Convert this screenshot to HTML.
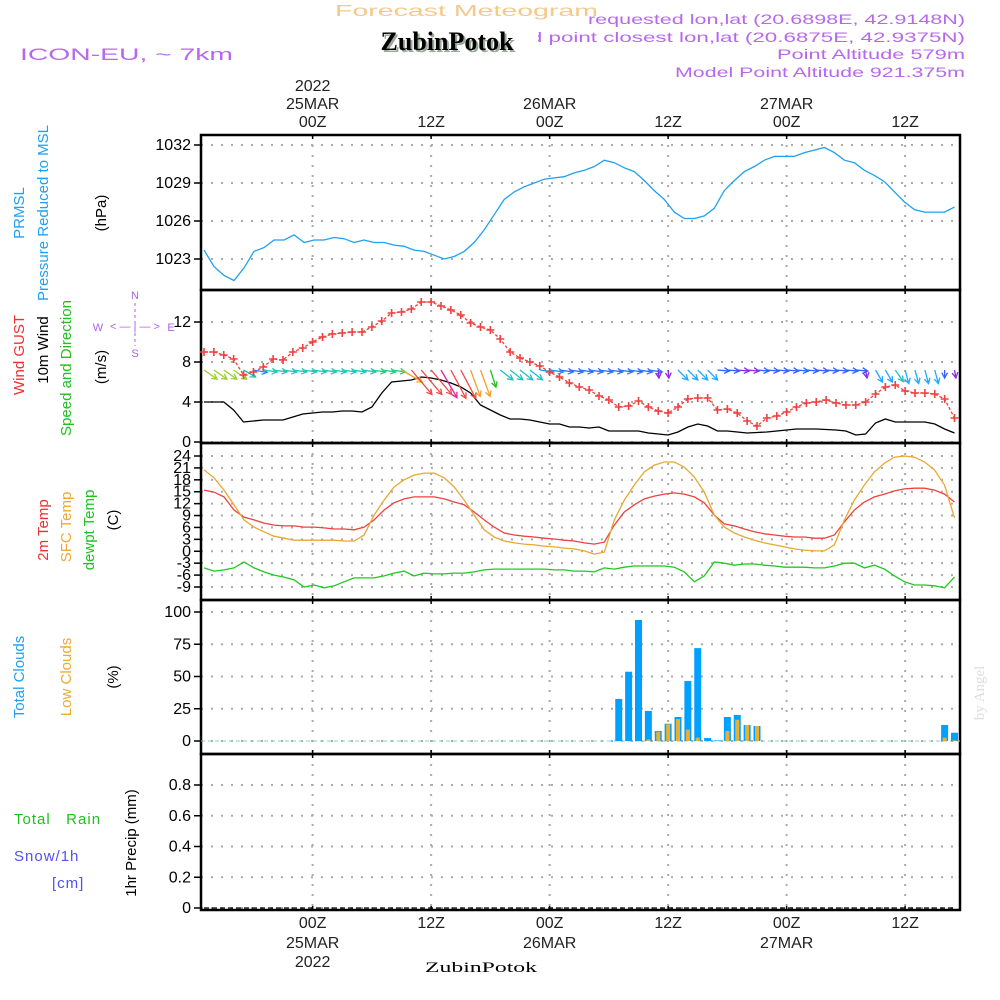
<!DOCTYPE html>
<html><head><meta charset="utf-8"><style>
html,body{margin:0;padding:0;background:#fff;width:1000px;height:1000px;overflow:hidden}
svg{display:block;font-family:"Liberation Sans",sans-serif}
</style></head><body>
<svg id="chart" width="1000" height="1000" viewBox="0 0 1000 1000">
<g>
<text x="335" y="16" textLength="263" lengthAdjust="spacingAndGlyphs" font-size="16" fill="#f5c98a">Forecast Meteogram</text>
<text x="588" y="24" textLength="377" lengthAdjust="spacingAndGlyphs" font-size="14" fill="#b868ec">requested lon,lat (20.6898E, 42.9148N)</text>
<text x="505" y="42" textLength="460" lengthAdjust="spacingAndGlyphs" font-size="14" fill="#b868ec">grid point closest lon,lat (20.6875E, 42.9375N)</text>
<rect x="352" y="26" width="186" height="28" fill="#fff"/>
<text x="447" y="50" text-anchor="middle" font-size="26" font-weight="bold" font-family="Liberation Serif, serif" fill="#9a9" transform="translate(2,2)">ZubinPotok</text>
<text x="447" y="50" text-anchor="middle" font-size="26" font-weight="bold" font-family="Liberation Serif, serif" fill="#000">ZubinPotok</text>
<text x="777" y="59" textLength="188" lengthAdjust="spacingAndGlyphs" font-size="14" fill="#b868ec">Point Altitude 579m</text>
<text x="675" y="77" textLength="290" lengthAdjust="spacingAndGlyphs" font-size="14" fill="#b868ec">Model Point Altitude 921.375m</text>
<text x="20" y="60" textLength="213" lengthAdjust="spacingAndGlyphs" font-size="17" fill="#b868ec">ICON-EU, ~ 7km</text>
</g>
<g font-size="15">
<text transform="translate(24,213) rotate(-90)" text-anchor="middle" fill="#1fa0f0">PRMSL</text>
<text transform="translate(48,213) rotate(-90)" text-anchor="middle" fill="#1fa0f0">Pressure Reduced to MSL</text>
<text transform="translate(106,213) rotate(-90)" text-anchor="middle" fill="#000">(hPa)</text>
<text transform="translate(24,355) rotate(-90)" text-anchor="middle" fill="#f03030">Wind GUST</text>
<text transform="translate(48,350) rotate(-90)" text-anchor="middle" fill="#000">10m Wind</text>
<text transform="translate(71,368) rotate(-90)" text-anchor="middle" fill="#20c020">Speed and Direction</text>
<text transform="translate(106,367) rotate(-90)" text-anchor="middle" fill="#000">(m/s)</text>
<g fill="#b060e8" font-size="11">
<text x="135" y="299" text-anchor="middle">N</text><text x="135" y="357" text-anchor="middle">S</text>
<text x="98" y="331" text-anchor="middle">W</text><text x="171" y="331" text-anchor="middle">E</text>
<text x="135" y="330" text-anchor="middle">&lt; — | — &gt;</text>
<line x1="135" y1="303" x2="135" y2="346" stroke="#b060e8" stroke-dasharray="3,3"/>
</g>
<text transform="translate(48,530) rotate(-90)" text-anchor="middle" fill="#f03030">2m Temp</text>
<text transform="translate(71,527) rotate(-90)" text-anchor="middle" fill="#f0a830">SFC Temp</text>
<text transform="translate(94,530) rotate(-90)" text-anchor="middle" fill="#20c020">dewpt Temp</text>
<text transform="translate(118,520) rotate(-90)" text-anchor="middle" fill="#000">(C)</text>
<text transform="translate(24,677) rotate(-90)" text-anchor="middle" fill="#1fa0f0">Total Clouds</text>
<text transform="translate(71,677) rotate(-90)" text-anchor="middle" fill="#f0a830">Low Clouds</text>
<text transform="translate(118,677) rotate(-90)" text-anchor="middle" fill="#000">(%)</text>
<text x="14" y="824" fill="#20c020" letter-spacing="1">Total&#160;&#160;&#160;Rain</text>
<text x="14" y="861" fill="#5050f0" letter-spacing="1">Snow/1h</text>
<text x="52" y="888" fill="#5050f0" letter-spacing="1">[cm]</text>
<text transform="translate(136,843) rotate(-90)" text-anchor="middle" fill="#000">1hr Precip (mm)</text>
<text transform="translate(984,693) rotate(-90)" text-anchor="middle" fill="#ddd" font-family="Liberation Serif, serif" font-size="15">by Angel</text>
<text x="425" y="972" textLength="112" lengthAdjust="spacingAndGlyphs" font-family="Liberation Serif, serif" font-size="15" fill="#000">ZubinPotok</text>
</g>
<g id="plots"></g>
</svg>
<script>
const hours = 77;
const timeTicks = [11, 23, 35, 47, 59, 71];
const timeLabels = ["00Z","12Z","00Z","12Z","00Z","12Z"];
const dateLabels = ["25MAR","","26MAR","","27MAR",""];
const pressure = [1023.7,1022.4,1021.7,1021.3,1022.3,1023.6,1023.9,1024.5,1024.5,1024.9,1024.3,1024.5,1024.5,1024.7,1024.6,1024.3,1024.5,1024.3,1024.3,1024.1,1024.0,1023.7,1023.6,1023.3,1023.0,1023.2,1023.6,1024.3,1025.3,1026.5,1027.7,1028.3,1028.7,1029.0,1029.3,1029.4,1029.5,1029.8,1030.0,1030.3,1030.8,1030.6,1030.2,1029.9,1029.2,1028.4,1027.7,1026.7,1026.2,1026.2,1026.4,1027.0,1028.4,1029.2,1029.9,1030.3,1030.8,1031.1,1031.1,1031.1,1031.4,1031.6,1031.8,1031.4,1030.8,1030.6,1030.0,1029.6,1029.1,1028.3,1027.5,1026.9,1026.7,1026.7,1026.7,1027.1];
const gust = [9.0,9.0,8.7,8.3,6.7,7.0,7.5,8.3,8.2,9.0,9.4,10.0,10.5,10.8,10.9,11.0,11.0,11.5,12.1,12.9,13.0,13.3,14.0,14.0,13.6,13.2,12.7,11.9,11.5,11.2,10.3,9.0,8.4,8.0,7.6,7.0,6.5,5.9,5.5,5.2,4.6,4.2,3.5,3.6,4.1,3.5,3.1,2.9,3.5,4.3,4.4,4.4,3.2,3.3,2.9,2.1,1.6,2.4,2.6,3.0,3.5,3.9,4.0,4.2,3.9,3.7,3.7,4.0,4.8,5.5,5.7,5.1,4.9,4.9,4.8,4.3,2.4];
const windSpeed = [4.0,4.0,4.0,3.2,2.0,2.1,2.2,2.2,2.2,2.5,2.8,2.9,3.0,3.0,3.1,3.1,3.0,3.5,4.9,6.0,6.1,6.2,6.5,6.4,6.2,5.9,5.5,4.9,3.7,3.2,2.7,2.3,2.3,2.2,2.0,1.8,1.8,1.5,1.5,1.4,1.5,1.1,1.1,1.1,1.1,0.9,0.8,0.7,1.0,1.5,1.8,1.6,1.1,1.1,1.0,0.9,0.95,1.0,1.1,1.2,1.3,1.3,1.3,1.25,1.2,1.1,0.7,0.8,1.9,2.3,2.0,2.0,2.0,2.0,1.8,1.3,0.9];
const windDir = [35,35,35,35,30,10,8,8,8,8,8,8,8,8,8,8,8,8,8,8,30,50,50,50,60,62,62,70,70,72,38,38,38,38,8,8,8,8,8,8,8,8,8,8,8,8,85,85,45,45,45,45,5,5,5,5,5,5,5,5,5,5,5,5,5,5,5,80,60,60,55,75,75,75,75,90,80];
const windLen = [16,16,16,16,14,14,14,14,14,14,14,14,14,14,14,14,14,14,14,14,24,32,32,32,32,32,32,28,28,18,16,16,16,16,14,14,14,14,14,14,14,14,14,14,14,14,8,8,14,14,14,14,12,12,12,12,12,12,12,12,12,12,12,12,12,12,12,8,14,14,14,14,14,14,14,8,8];
const windColor = ["#9ad030","#9ad030","#9ad030","#9ad030","#20c0b0","#1e90ff","#20c8b8","#20c8b8","#20c8b8","#20c8b8","#20c8b8","#20c8b8","#20c8b8","#20c8b8","#20c8b8","#20c8b8","#20c8b8","#20d080","#20d080","#20d080","#f0a030","#f04848","#f04848","#f04848","#e020a0","#f04848","#f04848","#f0a030","#f0a030","#20c020","#20c0c0","#20c0c0","#20c0c0","#20c0c0","#2090ff","#2090ff","#3070ff","#3070ff","#3070ff","#3070ff","#3070ff","#3070ff","#3070ff","#3070ff","#3070ff","#3070ff","#8a2be2","#8a2be2","#20a8ff","#20a8ff","#20a8ff","#20a8ff","#3060ff","#3060ff","#8a2be2","#8a2be2","#3060ff","#3060ff","#3060ff","#3060ff","#3060ff","#3060ff","#3060ff","#3060ff","#3060ff","#3060ff","#3060ff","#8a2be2","#20a8ff","#20a8ff","#20c0c0","#20a8ff","#20a8ff","#20a8ff","#20a8ff","#3060ff","#8a2be2"];
const temp2m = [15.4,14.9,13.7,10.4,8.6,7.9,7.1,6.6,6.4,6.4,6.1,6.1,5.9,5.6,5.6,5.4,6.1,7.9,10.4,12.2,13.2,13.7,13.7,13.7,13.2,12.4,11.7,9.9,7.9,6.1,4.6,4.1,3.8,3.6,3.3,3.1,2.8,2.6,2.1,1.8,2.3,6.6,9.9,11.7,13.2,13.9,14.4,14.7,14.4,13.7,12.2,9.1,6.9,6.4,5.6,4.9,4.4,4.1,3.8,3.6,3.6,3.3,3.3,4.1,7.4,10.4,12.4,13.7,14.4,15.2,15.7,15.9,15.9,15.4,14.4,12.4];
const tempSfc = [20.5,18.5,15.4,11.7,7.9,6.1,4.9,3.8,3.3,2.8,2.8,2.8,2.8,2.8,2.6,2.6,4.1,9.1,12.9,16.2,18.0,19.2,19.7,19.7,18.5,16.2,12.9,9.1,5.4,3.6,2.6,2.1,1.8,1.6,1.3,1.1,0.8,0.6,0.1,-0.7,-0.2,7.9,12.9,16.7,20.0,21.7,22.5,22.5,21.2,18.7,14.9,9.1,6.1,4.6,3.6,2.8,2.1,1.6,1.1,0.6,0.3,0.1,0.1,1.6,7.9,12.9,16.7,20.0,22.2,23.7,24.0,23.7,22.5,20.5,16.7,8.4];
const dewpt = [-4.2,-5.0,-4.7,-4.2,-2.7,-4.2,-5.2,-6.0,-6.5,-7.2,-9.0,-8.5,-9.2,-8.7,-7.7,-6.7,-6.7,-6.7,-6.2,-5.5,-5.0,-6.2,-5.5,-5.7,-5.7,-5.5,-5.5,-5.2,-4.7,-4.5,-4.5,-4.5,-4.5,-4.5,-4.5,-4.7,-4.7,-5.0,-5.0,-5.2,-4.2,-4.5,-4.0,-3.7,-3.7,-3.7,-3.7,-4.0,-5.2,-7.7,-6.2,-2.7,-3.0,-3.5,-3.2,-3.2,-3.5,-3.7,-4.0,-4.0,-4.0,-4.2,-4.2,-3.7,-3.0,-3.0,-4.2,-3.5,-4.5,-6.2,-7.7,-8.5,-8.5,-8.7,-9.2,-6.5];
const totalClouds = [0,0,0,0,0,0,0,0,0,0,0,0,0,0,0,0,0,0,0,0,0,0,0,0,0,0,0,0,0,0,0,0,0,0,0,0,0,0,0,0,0,0,32.6,53.7,93.8,23.3,7.8,13.4,18.6,46.5,72,2.3,0.5,18.6,20.2,12.4,11.6,0,0,0,0,0,0,0,0,0,0,0,0,0,0,0,0,0,0,12.4,6.4];
const lowClouds = [0,0,0,0,0,0,0,0,0,0,0,0,0,0,0,0,0,0,0,0,0,0,0,0,0,0,0,0,0,0,0,0,0,0,0,0,0,0,0,0,0,0,0,0,0,1.3,7.2,13,17,8.8,2.6,0,0,7.8,16.5,12.4,11.6,0,0,0,0,0,0,0,0,0,0,0,0,0,0,0,0,0,0,2.6,0.5];
const precip = new Array(77).fill(0);
const pressTicks = [1023,1026,1029,1032];
const windTicks = [0,4,8,12];
const tempTicks = [-9,-6,-3,0,3,6,9,12,15,18,21,24];
const cloudTicks = [0,25,50,75,100];
const precipTicks = [0,0.2,0.4,0.6,0.8];

const NS = "http://www.w3.org/2000/svg";
const root = document.getElementById("plots");
const X0 = 201, X1 = 960;
function xh(h){ return 204 + h * 9.875; }
function xs(i, n){ return xh(i * 76 / (n - 1)); }
function mk(tag, attrs, parent){ const e = document.createElementNS(NS, tag); for (const k in attrs) e.setAttribute(k, attrs[k]); (parent||root).appendChild(e); return e; }
function lin(d0,d1,r0,r1){ return v => r0 + (v-d0)*(r1-r0)/(d1-d0); }
const yP = lin(1023,1032,259,145);
const yW = lin(0,12,442,322);
const yT = lin(-9,24,587,456);
const yC = lin(0,100,741,612);
const yR = lin(0,0.8,908,785);

function panel(name, top, bot, ticks, ys, fmt){
  const g = mk("g", {});
  
  
  ticks.forEach(t => {
    const y = ys(t);
    const gl = mk("line", {x1:X0, x2:X1, y1:y, y2:y, stroke:"#aaa", "stroke-width":2, "stroke-dasharray":"2,8"}, g);
    
    
    const tk = mk("line", {x1:X0-7, x2:X0, y1:y, y2:y, stroke:"#000", "stroke-width":1.5}, g);
    
    
    const lb = mk("text", {x:X0-10, y:y+5, "text-anchor":"end", "font-size":16, fill:"#000"}, g);
    
    
    lb.textContent = fmt ? fmt(t) : t;
  });
  timeTicks.forEach(h => {
    const x = xh(h);
    const vl = mk("line", {x1:x, x2:x, y1:top, y2:bot, stroke:"#aaa", "stroke-width":2, "stroke-dasharray":"2,8"}, g);
    
    
    mk("line", {x1:x, x2:x, y1:top, y2:top+4, stroke:"#000", "stroke-width":1.5}, g);
    mk("line", {x1:x, x2:x, y1:bot-4, y2:bot, stroke:"#000", "stroke-width":1.5}, g);
  });
  const fr = mk("rect", {x:X0, y:top, width:X1-X0, height:bot-top, fill:"none", stroke:"#000", "stroke-width":2.5}, g);
  
  
  return g;
}
function series(name, vals, ys, color, n, parent){
  const pts = vals.map((v,i) => xs(i, n || vals.length).toFixed(1) + "," + ys(v).toFixed(1)).join(" ");
  const p = mk("polyline", {points:pts, fill:"none", stroke:color, "stroke-width":1.3}, parent);
  
  
  return p;
}

const g1 = panel("pressure-panel", 135, 290, pressTicks, yP);
series("pressure-line", pressure, yP, "#1fa0f0", pressure.length, g1);

const g2 = panel("wind-panel", 290, 443, windTicks, yW);
series("wind-speed-line", windSpeed, yW, "#000", windSpeed.length, g2);
windDir.forEach((d,i) => {
  const x = xh(i), y = 370, a = d*Math.PI/180, L = windLen[i];
  const x2 = x + L*Math.cos(a), y2 = y + L*Math.sin(a);
  const ar = mk("g", {stroke:windColor[i], "stroke-width":1.3, fill:"none"}, g2);
  
  
  mk("line", {x1:x, y1:y, x2:x2, y2:y2}, ar);
  const h1 = a + Math.PI - 0.5, h2 = a + Math.PI + 0.5;
  mk("polyline", {points:`${x2+6*Math.cos(h1)},${y2+6*Math.sin(h1)} ${x2},${y2} ${x2+6*Math.cos(h2)},${y2+6*Math.sin(h2)}`}, ar);
});
series("gust-line", gust, yW, "#f04040", gust.length, g2).setAttribute("stroke-dasharray","3,2");
gust.forEach((v,i) => {
  const x = xh(i), y = yW(v);
  const m = mk("path", {d:`M${x-4},${y}H${x+4}M${x},${y-4}V${y+4}`, stroke:"#f04040", "stroke-width":1.6}, g2);
  
  
});

const g3 = panel("temperature-panel", 443, 600, tempTicks, yT);
series("temp-2m-line", temp2m, yT, "#f04040", temp2m.length, g3);
series("temp-sfc-line", tempSfc, yT, "#e8a830", tempSfc.length, g3);
series("dewpoint-line", dewpt, yT, "#20c820", dewpt.length, g3);

const g4 = panel("clouds-panel", 600, 754, cloudTicks, yC);
mk("line", {x1:X0, x2:X1, y1:741, y2:741, stroke:"#8cc", "stroke-width":1, "stroke-dasharray":"4,3"}, g4);
totalClouds.forEach((v,i) => {
  if (v <= 0) return;
  const x = xh(i);
  const b = mk("rect", {x:x-3.5, y:yC(v), width:7, height:yC(0)-yC(v), fill:"#00a0ff"}, g4);
  
  
});
lowClouds.forEach((v,i) => {
  if (v <= 0) return;
  const x = xh(i);
  const b = mk("rect", {x:x-2, y:yC(v), width:4, height:yC(0)-yC(v), fill:"#e8b030"}, g4);
  
  
});

const g5 = panel("precip-panel", 754, 910, precipTicks, yR, t => t===0 ? "0" : t.toFixed(1));
series("precip-line", precip, yR, "#000", precip.length, g5).setAttribute("stroke-dasharray","5,3");

timeTicks.forEach((h,i) => {
  const x = xh(h);
  const t = mk("text", {x:x, y:127, "text-anchor":"middle", "font-size":16, fill:"#222"});
  
  
  t.textContent = timeLabels[i];
  const b = mk("text", {x:x, y:928, "text-anchor":"middle", "font-size":16, fill:"#222"});
  
  
  b.textContent = timeLabels[i];
  if (dateLabels[i]) {
    const d = mk("text", {x:x, y:109, "text-anchor":"middle", "font-size":16, fill:"#222"});
    
    
    d.textContent = dateLabels[i];
    const d2 = mk("text", {x:x, y:948, "text-anchor":"middle", "font-size":16, fill:"#222"});
    
    
    d2.textContent = dateLabels[i];
  }
});
const y1 = mk("text", {x:xh(11), y:91, "text-anchor":"middle", "font-size":16, fill:"#222"});


y1.textContent = "2022";
const y2 = mk("text", {x:xh(11), y:967, "text-anchor":"middle", "font-size":16, fill:"#222"});


y2.textContent = "2022";
</script>
</body></html>
